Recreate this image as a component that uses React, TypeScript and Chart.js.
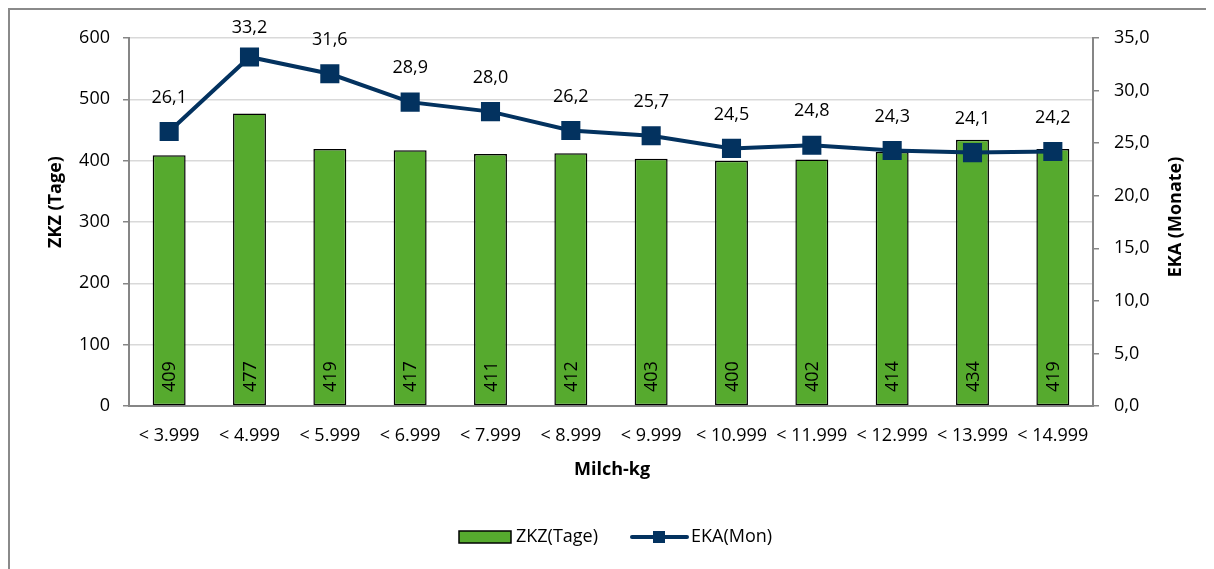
import React, { useEffect, useRef } from 'react';
import { Chart, registerables } from 'chart.js';

Chart.register(...registerables);

const categories = ['< 3.999', '< 4.999', '< 5.999', '< 6.999', '< 7.999', '< 8.999', '< 9.999', '< 10.999', '< 11.999', '< 12.999', '< 13.999', '< 14.999'];
const zkzValues = [409, 477, 419, 417, 411, 412, 403, 400, 402, 414, 434, 419];
const ekaValues = [26.1, 33.2, 31.6, 28.9, 28.0, 26.2, 25.7, 24.5, 24.8, 24.3, 24.1, 24.2];

const W = 1204;
const H = 559;
const FONT = '"Open Sans", "Noto Sans", sans-serif';
const GREEN = '#56aa2e';
const NAVY = '#03325f';
const AXIS = '#868686';
const GRID = '#d9d9d9';

const fmt = (v: number) => v.toFixed(1).replace('.', ',');

const labelPlugin = {
  id: 'customLabels',
  afterDatasetsDraw(chart: any) {
    const ctx = chart.ctx;
    const y0 = chart.scales.y.getPixelForValue(0);
    ctx.save();
    ctx.font = `18px ${FONT}`;
    ctx.fillStyle = '#000';
    const barMeta = chart.getDatasetMeta(1);
    barMeta.data.forEach((el: any, i: number) => {
      ctx.save();
      ctx.translate(el.x + 1, y0 - 14);
      ctx.rotate(-Math.PI / 2);
      ctx.textAlign = 'left';
      ctx.textBaseline = 'middle';
      ctx.fillText(String(zkzValues[i]), 0, 0);
      ctx.restore();
    });
    const lineMeta = chart.getDatasetMeta(0);
    ctx.textAlign = 'center';
    ctx.textBaseline = 'middle';
    lineMeta.data.forEach((el: any, i: number) => {
      ctx.fillText(fmt(ekaValues[i]), el.x, Math.max(el.y - 34, 18));
    });
    ctx.restore();
  },
  afterDraw(chart: any) {
    const ctx = chart.ctx;
    ctx.save();
    // axis titles
    ctx.font = `bold 18px ${FONT}`;
    ctx.fillStyle = '#000';
    ctx.textAlign = 'center';
    ctx.textBaseline = 'middle';
    ctx.fillText('Milch-kg', 602, 460);
    ctx.save();
    ctx.translate(46, 192);
    ctx.rotate(-Math.PI / 2);
    ctx.fillText('ZKZ (Tage)', 0, 0);
    ctx.restore();
    ctx.save();
    ctx.translate(1166, 207);
    ctx.rotate(-Math.PI / 2);
    ctx.fillText('EKA (Monate)', 0, 0);
    ctx.restore();

    // legend
    const ly = 527;
    ctx.fillStyle = GREEN;
    ctx.fillRect(449, ly - 6, 52, 12);
    ctx.strokeStyle = '#000';
    ctx.lineWidth = 1.5;
    ctx.strokeRect(449, ly - 6, 52, 12);
    ctx.font = `18px ${FONT}`;
    ctx.fillStyle = '#000';
    ctx.textAlign = 'left';
    ctx.textBaseline = 'middle';
    ctx.fillText('ZKZ(Tage)', 506, ly);
    ctx.strokeStyle = NAVY;
    ctx.lineWidth = 4;
    ctx.lineCap = 'round';
    ctx.beginPath();
    ctx.moveTo(622, ly);
    ctx.lineTo(677, ly);
    ctx.stroke();
    ctx.fillStyle = NAVY;
    ctx.fillRect(643, ly - 6, 12, 12);
    ctx.fillStyle = '#000';
    ctx.fillText('EKA(Mon)', 681, ly);
    ctx.restore();
  },
};

export default function App() {
  const ref = useRef<HTMLCanvasElement>(null);
  useEffect(() => {
    if (!ref.current) return;
    const tickFont = { family: FONT, size: 18 };
    const chart = new Chart(ref.current, {
      type: 'bar',
      data: {
        labels: categories,
        datasets: [
          {
            type: 'line' as const,
            label: 'EKA(Mon)',
            data: ekaValues,
            yAxisID: 'y1',
            borderColor: NAVY,
            backgroundColor: NAVY,
            borderWidth: 4,
            pointStyle: 'rect',
            pointRadius: 13.5,
            pointBackgroundColor: NAVY,
            pointBorderColor: NAVY,
            pointBorderWidth: 0,
            tension: 0,
            order: 0,
          } as any,
          {
            type: 'bar' as const,
            label: 'ZKZ(Tage)',
            data: zkzValues,
            yAxisID: 'y',
            backgroundColor: GREEN,
            borderColor: '#000',
            borderWidth: 1.5,
            borderSkipped: false,
            categoryPercentage: 1,
            barPercentage: 0.41,
            order: 1,
          },
        ],
      },
      options: {
        responsive: false,
        animation: false,
        layout: { padding: { top: 28, left: 0, right: 0, bottom: 0 } },
        plugins: {
          legend: { display: false },
          tooltip: { enabled: false },
        },
        scales: {
          x: {
            grid: { display: false, drawTicks: false },
            border: { display: true, color: AXIS, width: 2 },
            ticks: { font: tickFont, color: '#000', padding: 19, maxRotation: 0, autoSkip: false },
            afterFit: (s: any) => { s.height = 163; },
          },
          y: {
            position: 'left',
            min: 0,
            max: 600,
            ticks: { stepSize: 100, padding: 13, font: tickFont, color: '#000' },
            grid: { color: GRID, lineWidth: 1.5, tickColor: AXIS, tickLength: 6, drawTicks: true },
            border: { color: AXIS, width: 2 },
            afterFit: (s: any) => { s.width = 119; },
          },
          y1: {
            position: 'right',
            min: 0,
            max: 35,
            ticks: { stepSize: 5, padding: 15, font: tickFont, color: '#000', callback: (v: any) => fmt(Number(v)) },
            grid: { drawOnChartArea: false, tickColor: AXIS, tickLength: 6, drawTicks: true, lineWidth: 1.5 },
            border: { color: AXIS, width: 2 },
            afterFit: (s: any) => { s.width = 121; },
          },
        },
      } as any,
      plugins: [labelPlugin],
    });
    return () => chart.destroy();
  }, []);
  return (
    <div style={{ width: 1206, height: 561, boxSizing: 'border-box', borderLeft: '2px solid #8a8a8a', borderTop: '2px solid #8a8a8a', background: '#fff' }}>
      <canvas ref={ref} width={W} height={H} style={{ display: 'block', width: W, height: H }} />
    </div>
  );
}
